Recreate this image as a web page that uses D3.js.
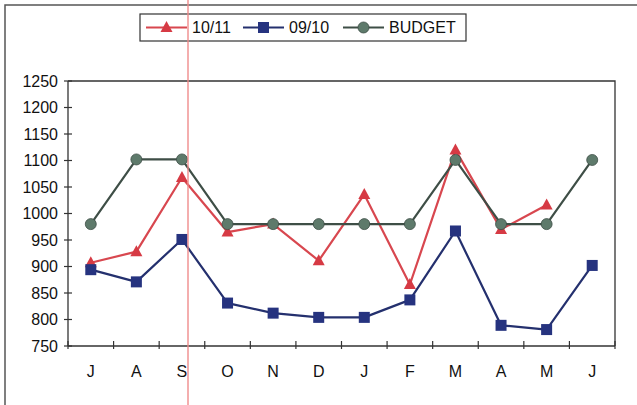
<!DOCTYPE html>
<html>
<head>
<meta charset="utf-8">
<script src="https://cdn.jsdelivr.net/npm/d3@7"></script>
<style>
  html, body { margin: 0; padding: 0; background: #fff; }
  svg { display: block; font-family: "Liberation Sans", Arial, sans-serif; }
</style>
</head>
<body>
<svg id="chart" width="637" height="405"></svg>
<script>
// Months of the financial year, July to June
const months = ["J", "A", "S", "O", "N", "D", "J", "F", "M", "A", "M", "J"];
// Monthly figures per season (null = not yet reported)
const season1011 = [907, 928, 1068, 965, 980, 911, 1036, 866, 1120, 970, 1016, null];
const season0910 = [894, 871, 951, 831, 812, 804, 804, 837, 967, 789, 781, 902];
const budget = [980, 1102, 1102, 980, 980, 980, 980, 980, 1101, 980, 980, 1101];
const yTicks = [750, 800, 850, 900, 950, 1000, 1050, 1100, 1150, 1200, 1250];

const series = [
  { name: "10/11", values: season1011, line: "#d8474f", fill: "#d63a44", shape: "triangle" },
  { name: "09/10", values: season0910, line: "#24306e", fill: "#26337f", shape: "square" },
  { name: "BUDGET", values: budget, line: "#3e4e46", fill: "#5e7a6b", shape: "circle" }
];

const svg = d3.select("#chart");
const plot = { left: 68, right: 615, top: 81, bottom: 346 };
const fontSize = 16;

// Outer chart frame
svg.append("rect")
  .attr("x", 5).attr("y", 5).attr("width", 660).attr("height", 430)
  .attr("fill", "none").attr("stroke", "#555").attr("stroke-width", 1.5);

const x = d3.scaleBand().domain(d3.range(months.length))
  .range([plot.left, plot.right]).padding(0);
const y = d3.scaleLinear().domain([750, 1250]).range([plot.bottom, plot.top]);

// Plot area border (top and right)
svg.append("path")
  .attr("d", `M${plot.left},${plot.top}H${plot.right}V${plot.bottom}`)
  .attr("fill", "none").attr("stroke", "#333").attr("stroke-width", 1.3);

// Y axis with crossing ticks
const yAxis = svg.append("g").attr("transform", `translate(${plot.left},0)`);
yAxis.append("line").attr("x1", 0).attr("x2", 0)
  .attr("y1", plot.top).attr("y2", plot.bottom)
  .attr("stroke", "#333").attr("stroke-width", 1.3);
yAxis.selectAll("line.tick").data(yTicks).join("line")
  .attr("class", "tick")
  .attr("x1", -4).attr("x2", 4)
  .attr("y1", d => y(d)).attr("y2", d => y(d))
  .attr("stroke", "#333").attr("stroke-width", 1.2);
yAxis.selectAll("text").data(yTicks).join("text")
  .attr("x", -10).attr("y", d => y(d))
  .attr("dy", "0.35em")
  .attr("text-anchor", "end")
  .attr("font-size", fontSize)
  .attr("fill", "#111")
  .text(d => d);

// X axis with crossing ticks at category boundaries
const xAxis = svg.append("g").attr("transform", `translate(0,${plot.bottom})`);
xAxis.append("line").attr("x1", plot.left).attr("x2", plot.right)
  .attr("y1", 0).attr("y2", 0)
  .attr("stroke", "#333").attr("stroke-width", 1.3);
const edges = d3.range(months.length + 1).map(i => i < months.length ? x(i) : plot.right);
xAxis.selectAll("line.tick").data(edges).join("line")
  .attr("class", "tick")
  .attr("x1", d => d).attr("x2", d => d)
  .attr("y1", -5).attr("y2", 3)
  .attr("stroke", "#333").attr("stroke-width", 1.2);
xAxis.selectAll("text").data(months).join("text")
  .attr("x", (d, i) => x(i) + x.bandwidth() / 2)
  .attr("y", 25)
  .attr("dy", "0.35em")
  .attr("text-anchor", "middle")
  .attr("font-size", fontSize)
  .attr("fill", "#111")
  .text(d => d);

const cx = i => x(i) + x.bandwidth() / 2;

function drawMarker(g, shape, fill, stroke) {
  if (shape === "triangle") {
    g.append("path").attr("d", "M0,-6.5L6,4.5L-6,4.5Z").attr("fill", fill);
  } else if (shape === "square") {
    g.append("rect").attr("x", -5.5).attr("y", -5.5).attr("width", 11).attr("height", 11)
      .attr("fill", fill);
  } else {
    g.append("circle").attr("r", 5.5).attr("fill", fill).attr("stroke", stroke).attr("stroke-width", 0.8);
  }
}

// Draw order: 10/11 first, then 09/10, then BUDGET on top
series.forEach(s => {
  const line = d3.line()
    .defined(d => d != null)
    .x((d, i) => cx(i))
    .y(d => y(d));
  svg.append("path")
    .datum(s.values)
    .attr("d", line)
    .attr("fill", "none")
    .attr("stroke", s.line)
    .attr("stroke-width", 2.2)
    .attr("stroke-linejoin", "round");
  s.values.forEach((v, i) => {
    if (v == null) return;
    const g = svg.append("g").attr("transform", `translate(${cx(i)},${y(v)})`);
    drawMarker(g, s.shape, s.fill, s.line);
  });
});

// Legend
const legend = svg.append("g");
legend.append("rect")
  .attr("x", 140).attr("y", 14).attr("width", 326).attr("height", 27)
  .attr("fill", "#fff").attr("stroke", "#333").attr("stroke-width", 1.2);
const legendX = [146, 243, 343];
series.forEach((s, k) => {
  const lx = legendX[k], ly = 27.5;
  legend.append("line").attr("x1", lx).attr("x2", lx + 41)
    .attr("y1", ly).attr("y2", ly)
    .attr("stroke", s.line).attr("stroke-width", 2.2);
  const g = legend.append("g").attr("transform", `translate(${lx + 20.5},${ly})`);
  drawMarker(g, s.shape, s.fill, s.line);
  legend.append("text")
    .attr("x", lx + 46).attr("y", ly)
    .attr("dy", "0.35em")
    .attr("font-size", fontSize)
    .attr("fill", "#111")
    .text(s.name);
});

// Vertical red guide line
svg.append("line")
  .attr("x1", 188).attr("x2", 188).attr("y1", 0).attr("y2", 405)
  .attr("stroke", "#f08a8a").attr("stroke-width", 1.6).attr("opacity", 0.85);
</script>
</body>
</html>
